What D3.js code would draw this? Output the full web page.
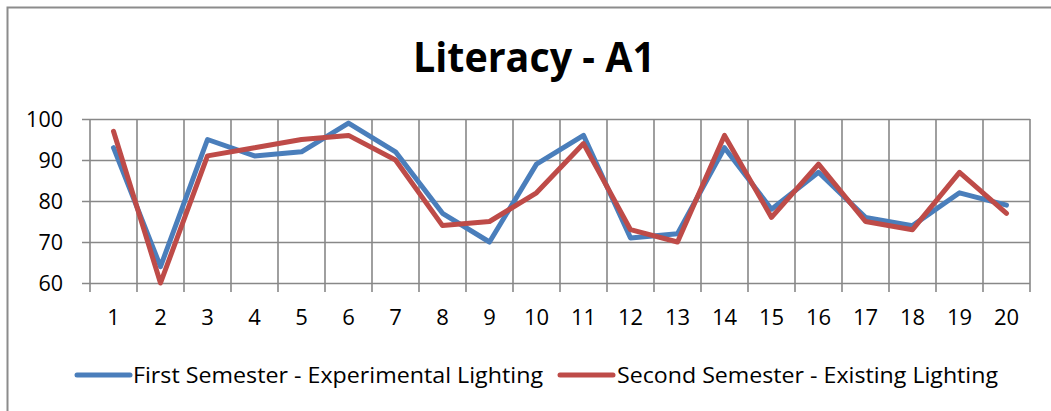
<!DOCTYPE html>
<html><head><meta charset="utf-8">
<script src="https://cdn.jsdelivr.net/npm/d3@7"></script>
<style>html,body{margin:0;padding:0;background:#fff;overflow:hidden}</style>
</head><body>
<svg id="c" width="1051" height="411"></svg>
<script>
const categories = ["1","2","3","4","5","6","7","8","9","10","11","12","13","14","15","16","17","18","19","20"];
const firstSemester = [93,64,95,91,92,99,92,77,70,89,96,71,72,93,78,87,76,74,82,79];
const secondSemester = [97,60,91,93,95,96,90,74,75,82,94,73,70,96,76,89,75,73,87,77];
const yTicks = [60,70,80,90,100];
const seriesNames = ["First Semester - Experimental Lighting","Second Semester - Existing Lighting"];
const colors = ["#4A7EBB","#BE4B48"];
const titleText = "Literacy - A1";

const svg = d3.select("#c");
const font = "'Open Sans', 'Noto Sans', sans-serif";
const grid = "#888888";

svg.append("rect").attr("x",7.5).attr("y",7.5).attr("width",1100).attr("height",500)
  .attr("fill","none").attr("stroke","#8c8c8c").attr("stroke-width",2);

const L=90, R=1030, T=119, B=283;
const x = d3.scaleBand().domain(categories).range([L,R]);
const y = d3.scaleLinear().domain([60,100]).range([B,T]);

// title
svg.append("text").attr("x",534).attr("y",72).attr("text-anchor","middle")
  .attr("font-family",font).attr("font-weight","bold").attr("font-size",42)
  .attr("textLength",242).attr("lengthAdjust","spacingAndGlyphs").text(titleText);

// horizontal gridlines
const yAxis = d3.axisLeft(y).tickValues(yTicks).tickSize(-(R-L)).tickSizeOuter(0).tickPadding(27);
const gy = svg.append("g").attr("transform",`translate(${L},0)`).call(yAxis);
gy.select(".domain").remove();
gy.selectAll(".tick line").attr("stroke",grid).attr("stroke-width",1.6).attr("x1",-8);
gy.selectAll(".tick text").attr("font-family",font).attr("font-size",21.5).attr("fill","#000").attr("dy","0.36em");

// vertical gridlines at category boundaries
const bounds = categories.map(c=>x(c)).concat([R]);
svg.append("g").selectAll("line").data(bounds).join("line")
  .attr("x1",d=>d).attr("x2",d=>d).attr("y1",T).attr("y2",B+9)
  .attr("stroke",grid).attr("stroke-width",1.6);

// x axis labels
const xAxis = d3.axisBottom(x).tickSize(0).tickPadding(26);
const gx = svg.append("g").attr("transform",`translate(0,${B})`).call(xAxis);
gx.select(".domain").remove();
gx.selectAll(".tick text").attr("font-family",font).attr("font-size",22).attr("fill","#000");

// lines
const line = d3.line().x((d,i)=>x(categories[i])+x.bandwidth()/2).y(d=>y(d));
[firstSemester, secondSemester].forEach((s,k)=>{
  svg.append("path").datum(s).attr("d",line).attr("fill","none")
    .attr("stroke",colors[k]).attr("stroke-width",5)
    .attr("stroke-linejoin","round").attr("stroke-linecap","round");
});

// legend
const leg = [{x1:77,x2:130,tx:133,tl:410},{x1:560,x2:613,tx:617,tl:381}];
leg.forEach((l,k)=>{
  svg.append("line").attr("x1",l.x1).attr("x2",l.x2).attr("y1",375).attr("y2",375)
    .attr("stroke",colors[k]).attr("stroke-width",5).attr("stroke-linecap","round");
  svg.append("text").attr("x",l.tx).attr("y",383).attr("font-family",font).attr("font-size",22)
    .attr("textLength",l.tl).attr("lengthAdjust","spacingAndGlyphs").text(seriesNames[k]);
});
</script>
</body></html>
